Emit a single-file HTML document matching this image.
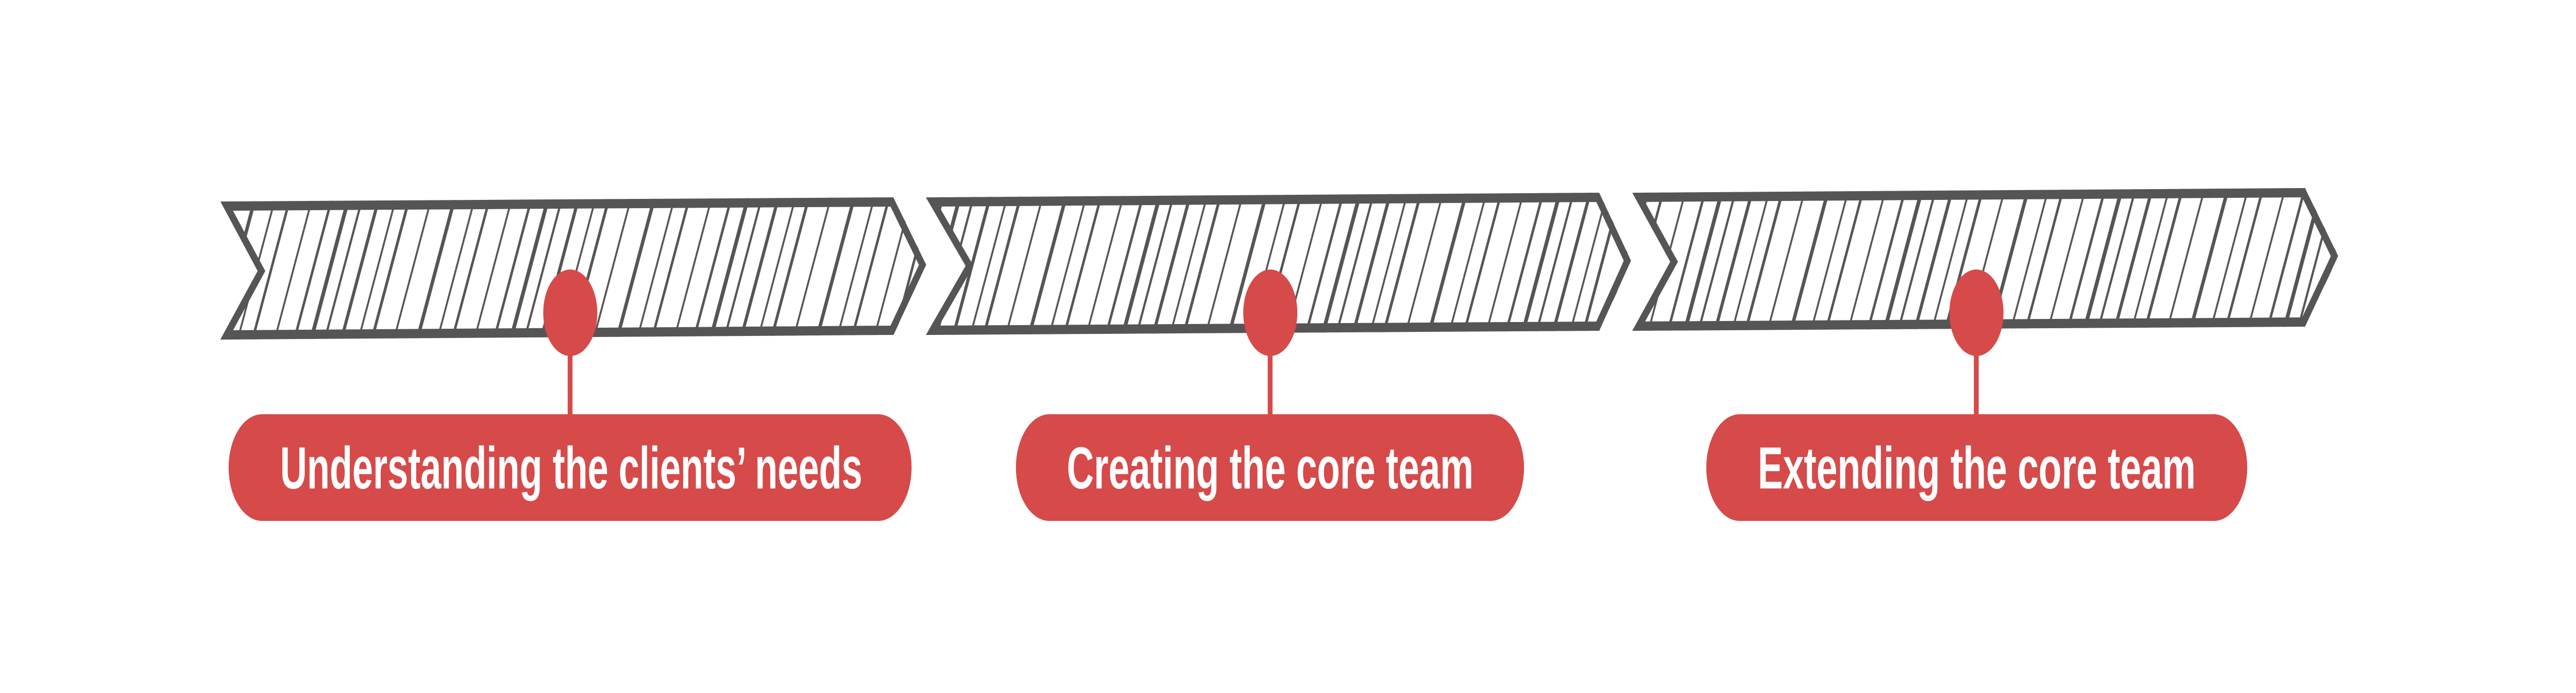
<!DOCTYPE html>
<html><head><meta charset="utf-8"><style>
html,body{margin:0;padding:0;background:#fff;width:100%;height:100%;overflow:hidden;}
svg{display:block;width:100vw;height:100vh;}
text{font-family:"Liberation Sans",sans-serif;font-weight:bold;fill:#fff;}
</style></head><body>
<svg viewBox="0 0 8000 1345" preserveAspectRatio="none" xmlns="http://www.w3.org/2000/svg">
<defs>
<pattern id="h" patternUnits="userSpaceOnUse" width="620" height="2000" patternTransform="skewX(-23)">
<rect x="0" y="0" width="12" height="2000" fill="#555"/>
<rect x="45" y="0" width="7" height="2000" fill="#555"/>
<rect x="95" y="0" width="10" height="2000" fill="#555"/>
<rect x="150" y="0" width="6" height="2000" fill="#555"/>
<rect x="190" y="0" width="9" height="2000" fill="#555"/>
<rect x="260" y="0" width="6" height="2000" fill="#555"/>
<rect x="330" y="0" width="11" height="2000" fill="#555"/>
<rect x="395" y="0" width="6" height="2000" fill="#555"/>
<rect x="440" y="0" width="8" height="2000" fill="#555"/>
<rect x="510" y="0" width="6" height="2000" fill="#555"/>
<rect x="570" y="0" width="8" height="2000" fill="#555"/>
</pattern>
<clipPath id="c1"><polygon points="692,391 2775,383 2877,514 2775,650 692,659 800,526"/></clipPath>
<clipPath id="c2"><polygon points="2884,383 4967,374 5066,506 4967,642 2884,650 2999,516"/></clipPath>
<clipPath id="c3"><polygon points="5077,374 7159,365 7262,497 7159,634 5077,642 5187,508"/></clipPath>
</defs>

<g clip-path="url(#c1)"><rect x="600" y="300" width="2400" height="400" fill="url(#h)"/></g>
<polygon points="704,400 2770,392 2865,514 2770,641 704,650 812,526" fill="none" stroke="#555" stroke-width="18"/>
<g clip-path="url(#c2)"><rect x="2800" y="300" width="2400" height="400" fill="url(#h)" transform="translate(37,0)"/></g>
<polygon points="2896,392 4962,383 5054,506 4962,633 2896,641 3011,516" fill="none" stroke="#555" stroke-width="18"/>
<g clip-path="url(#c3)"><rect x="5000" y="300" width="2400" height="400" fill="url(#h)" transform="translate(-81,0)"/></g>
<polygon points="5089,383 7154,374 7250,497 7154,625 5089,633 5199,508" fill="none" stroke="#555" stroke-width="18"/>

<g fill="#d64a4a">
<rect x="1763" y="607" width="15" height="200"/>
<circle cx="1771" cy="607" r="84"/>
<rect x="710" y="804" width="2121" height="207" rx="103.5"/>
<rect x="3937" y="607" width="15" height="200"/>
<circle cx="3945" cy="607" r="84"/>
<rect x="3155" y="804" width="1578" height="207" rx="103.5"/>
<rect x="6130" y="607" width="15" height="200"/>
<circle cx="6138" cy="607" r="84"/>
<rect x="5299" y="804" width="1680" height="207" rx="103.5"/>
</g>
<text x="870" y="948" font-size="115" textLength="1808" lengthAdjust="spacingAndGlyphs">Understanding the clients’ needs</text>
<text x="3313" y="948" font-size="115" textLength="1263" lengthAdjust="spacingAndGlyphs">Creating the core team</text>
<text x="5459" y="948" font-size="115" textLength="1360" lengthAdjust="spacingAndGlyphs">Extending the core team</text>
</svg>
</body></html>
